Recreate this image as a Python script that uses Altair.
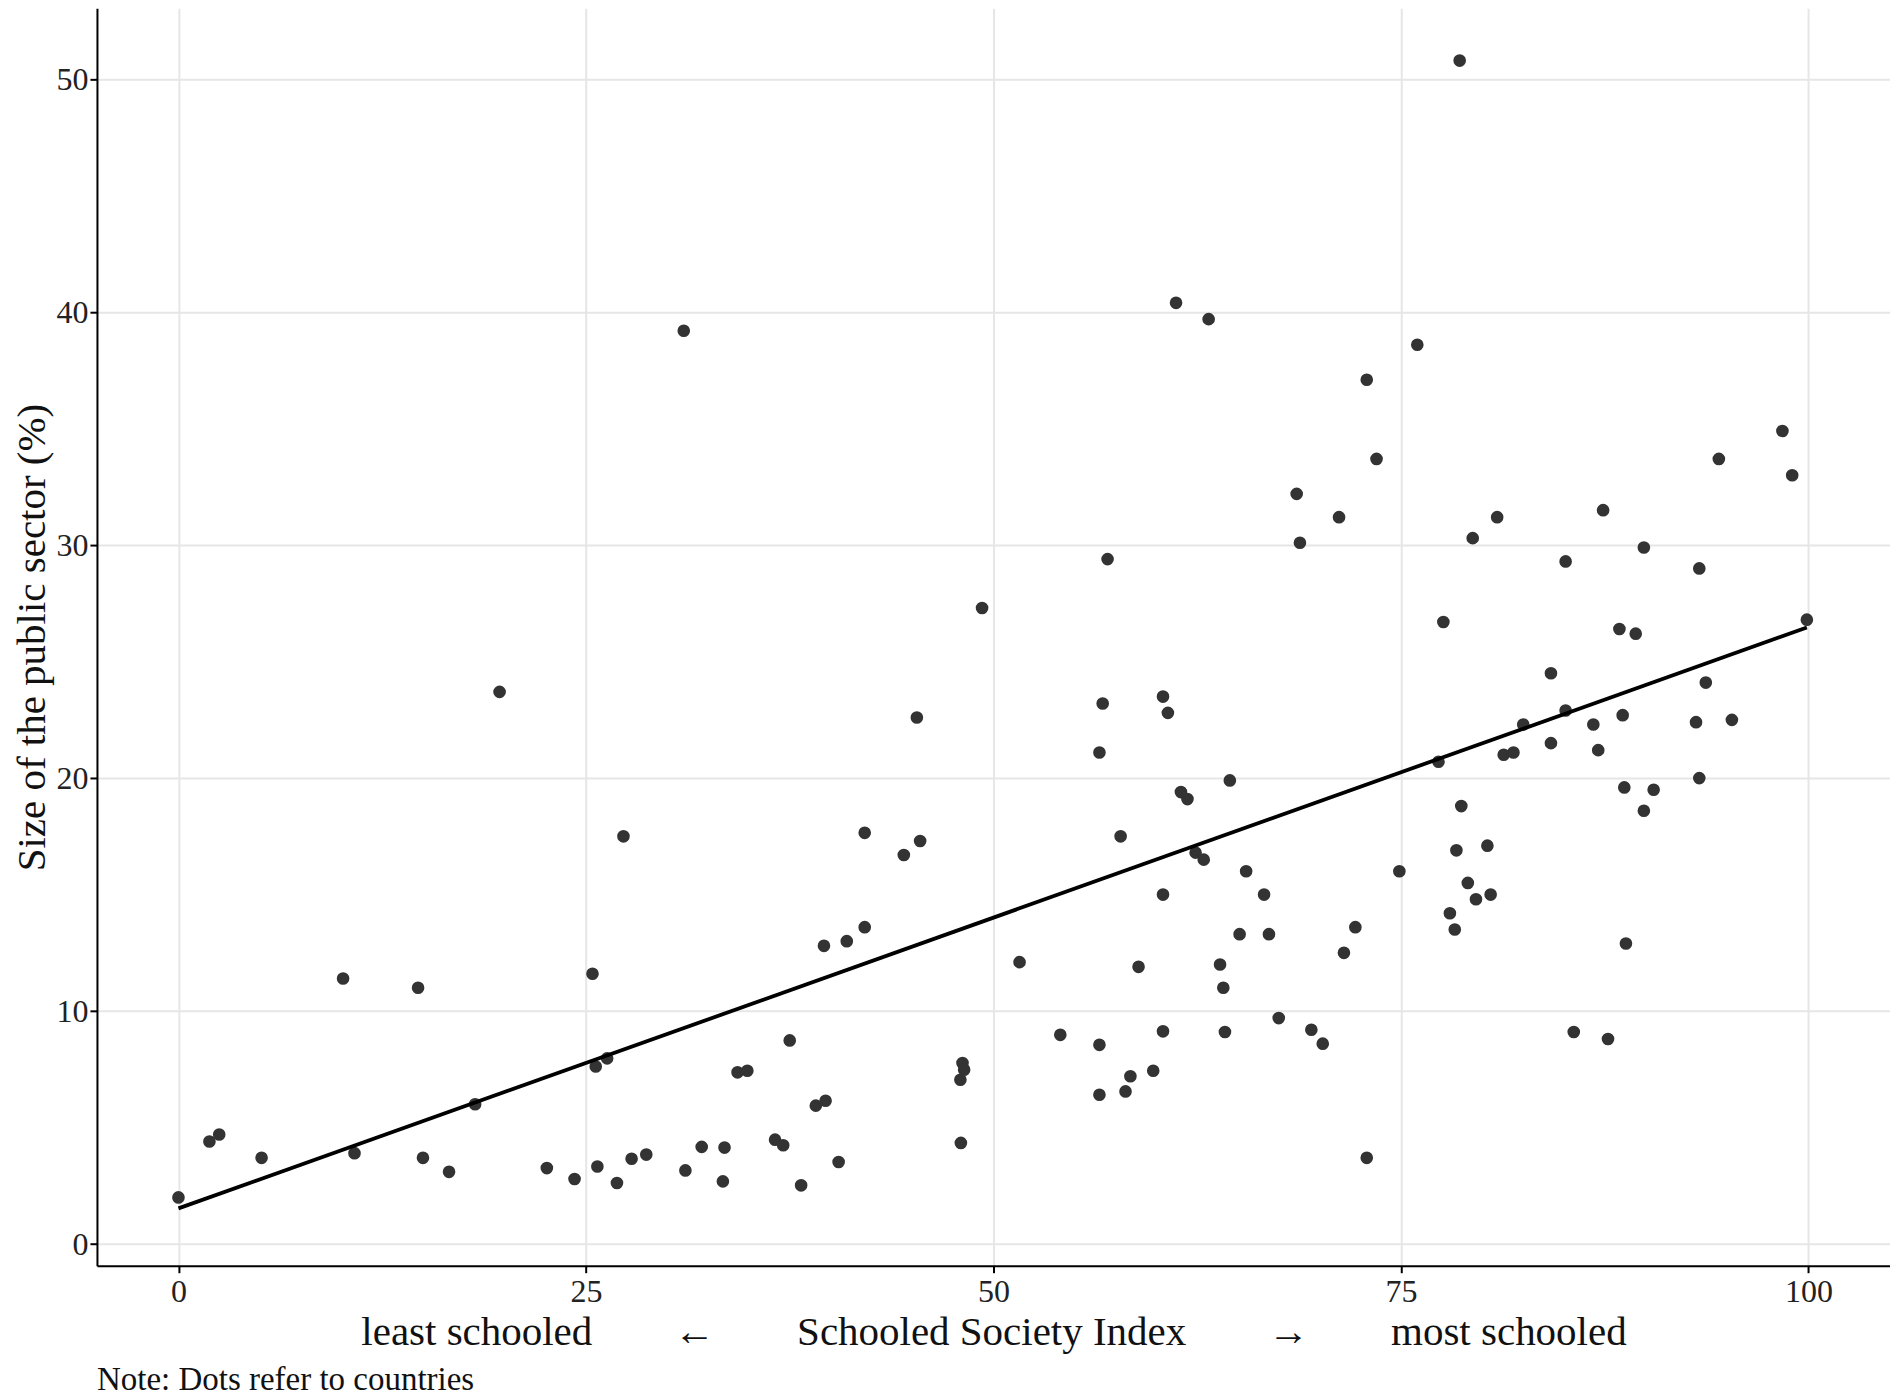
import altair as alt
import pandas as pd

ssi = [0.0, 1.9, 2.5, 5.1, 10.1, 10.8, 14.7, 15.0, 16.6, 18.2,
       19.7, 22.6, 24.3, 25.4, 25.6, 25.7, 26.3, 26.9, 27.3, 27.8,
       28.7, 31.0, 31.1, 32.1, 33.4, 33.5, 34.3, 34.9, 36.6, 37.1,
       37.5, 38.2, 39.1, 39.6, 39.7, 40.5, 41.0, 42.1, 42.1, 44.5,
       45.3, 45.5, 48.0, 47.97, 48.1, 48.2, 49.3, 51.6, 54.1, 56.5,
       56.5, 56.5, 56.7, 57.0, 57.8, 58.1, 58.4, 58.9, 59.8, 60.4,
       60.4, 60.4, 60.7, 61.2, 61.5, 61.9, 62.4, 62.9, 63.2, 63.9,
       64.1, 64.2, 64.5, 65.1, 65.5, 66.6, 66.9, 67.5, 68.6, 68.8,
       69.5, 70.2, 71.2, 71.5, 72.2, 72.9, 72.9, 73.5, 74.9, 76.0,
       77.3, 77.6, 78.0, 78.3, 78.4, 78.6, 78.7, 79.1, 79.4, 79.6,
       80.3, 80.5, 80.9, 81.3, 81.9, 82.5, 84.2, 84.2, 85.1, 85.1,
       85.6, 86.8, 87.1, 87.4, 87.7, 88.4, 88.6, 88.7, 88.8, 89.4,
       89.9, 89.9, 90.5, 93.1, 93.3, 93.3, 93.7, 94.5, 95.3, 98.4,
       99.0, 99.9]

public_sector = [2.0, 4.4, 4.7, 3.7, 11.4, 3.9, 11.0, 3.7, 3.1, 6.0,
                 23.7, 3.26, 2.79, 11.6, 7.62, 3.33, 7.97, 2.62, 17.5, 3.66,
                 3.84, 39.2, 3.16, 4.17, 2.69, 4.14, 7.37, 7.44, 4.48, 4.24,
                 8.74, 2.52, 5.94, 12.8, 6.15, 3.52, 13.0, 17.65, 13.6, 16.7,
                 22.6, 17.3, 4.34, 7.05, 7.77, 7.48, 27.3, 12.1, 8.98, 21.1,
                 8.55, 6.41, 23.2, 29.4, 17.5, 6.55, 7.2, 11.9, 7.44, 23.5,
                 15.0, 9.13, 22.8, 40.4, 19.4, 19.1, 16.8, 16.5, 39.7, 12.0,
                 11.0, 9.1, 19.9, 13.3, 16.0, 15.0, 13.3, 9.7, 32.2, 30.1,
                 9.2, 8.6, 31.2, 12.5, 13.6, 37.1, 3.7, 33.7, 16.0, 38.6,
                 20.7, 26.7, 14.2, 13.5, 16.9, 50.8, 18.8, 15.5, 30.3, 14.8,
                 17.1, 15.0, 31.2, 21.0, 21.1, 22.3, 24.5, 21.5, 22.9, 29.3,
                 9.1, 22.3, 21.2, 31.5, 8.8, 26.4, 22.7, 19.6, 12.9, 26.2,
                 29.9, 18.6, 19.5, 22.4, 29.0, 20.0, 24.1, 33.7, 22.5, 34.9,
                 33.0, 26.8]

x_ticks = [0, 25, 50, 75, 100]
y_ticks = [0, 10, 20, 30, 40, 50]

df = pd.DataFrame({"ssi": ssi, "public": public_sector})

FONT = "Liberation Serif"
NB = "\u00a0" * 8
x_title = f"least schooled{NB}\u2190{NB}Schooled Society Index{NB}\u2192{NB}most schooled"

x_enc = alt.X(
    "ssi:Q",
    scale=alt.Scale(domain=[-5, 105], nice=False, zero=False),
    axis=alt.Axis(values=x_ticks, title=x_title, labelFontSize=32,
                  titleFontSize=41, labelPadding=4, titlePadding=5),
)
y_enc = alt.Y(
    "public:Q",
    scale=alt.Scale(domain=[-0.93, 53.04], nice=False, zero=False),
    axis=alt.Axis(values=y_ticks, title="Size of the public sector (%)",
                  labelFontSize=32, titleFontSize=41, labelPadding=2,
                  titlePadding=2),
)

points = alt.Chart(df).mark_circle(size=160, color="#333333", opacity=1).encode(
    x=x_enc, y=y_enc
)

fit = alt.Chart(df).transform_regression("ssi", "public").mark_line(
    color="black", strokeWidth=3.8
).encode(x="ssi:Q", y="public:Q")

chart = (
    alt.layer(points, fit)
    .properties(
        width=1794,
        height=1258,
        title=alt.TitleParams(
            "Note: Dots refer to countries",
            orient="bottom",
            anchor="start",
            frame="group",
            fontSize=33,
            font=FONT,
            fontWeight="normal",
            color="#111111",
            offset=11,
        ),
        padding={"left": 4, "top": 0, "right": 0, "bottom": 0},
    )
    .configure_view(stroke=None)
    .configure_axis(
        labelFont=FONT,
        titleFont=FONT,
        labelColor="#222222",
        titleColor="#111111",
        titleFontWeight="normal",
        domainColor="black",
        domainWidth=2,
        tickColor="black",
        tickWidth=2,
        tickSize=7,
        gridColor="#e6e6e6",
        gridWidth=2,
    )
)

chart.save("out.html", embed_options={"renderer": "svg", "actions": False})
